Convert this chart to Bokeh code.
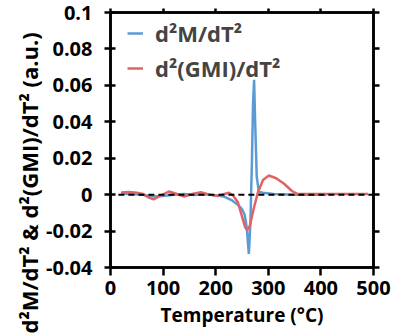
from bokeh.plotting import figure
from bokeh.models import Range1d, LinearAxis, FixedTicker, Legend, LegendItem, CustomJSTickFormatter, Title
from bokeh.embed import file_html
from bokeh.resources import INLINE

# data
temp_m = [20, 40, 60, 80, 100, 120, 140, 160, 180, 200, 215, 230, 242, 250, 255, 259, 263, 266, 269, 271, 273, 275, 278, 282, 290, 310, 350, 410]
d2m = [0.0005, 0.0004, 0.0, -0.001, -0.0008, 0.0, 0.0004, -0.0002, 0.0002, -0.0004, -0.001, -0.003, -0.0055, -0.008, -0.011, -0.018, -0.0325, -0.015, 0.02, 0.05, 0.063, 0.04, 0.01, 0.0015, 0.001, 0.0004, 0.0, 0.0]
temp_g = [20, 35, 50, 62, 72, 82, 95, 111, 125, 140, 155, 172, 188, 204, 215, 225, 233, 242, 250, 256, 260, 265, 272, 280, 290, 301, 315, 330, 345, 356, 380, 420, 460, 490]
d2gmi = [0.0012, 0.0015, 0.001, 0.0003, -0.0015, -0.0026, -0.0005, 0.0017, 0.0005, -0.001, 0.0003, 0.0013, 0.0, -0.0008, 0.0002, 0.001, -0.0005, -0.004, -0.012, -0.018, -0.0194, -0.017, -0.008, 0.001, 0.008, 0.0105, 0.009, 0.006, 0.002, 0.0003, 0.0003, 0.0003, 0.0003, 0.0003]
base_t = [15, 500]
base_v = [0, 0]
x_ticks = [0, 100, 200, 300, 400, 500]
y_ticks = [-0.04, -0.02, 0, 0.02, 0.04, 0.06, 0.08, 0.1]
y_labels = ["-0.04", "-0.02", "0", "0.02", "0.04", "0.06", "0.08", "0.1"]
y_title = "d²M/dT² & d²(GMI)/dT² (a.u.)"
x_title = "Temperature (°C)"

FONT = "Open Sans"
BLUE = "#5B9BD5"
RED = "#E06464"

p = figure(width=394, height=334, output_backend="svg", toolbar_location=None,
           x_range=Range1d(0, 500), y_range=Range1d(-0.04, 0.1),
           min_border_left=110, min_border_right=21, min_border_top=12, min_border_bottom=67)
p.xgrid.visible = False
p.ygrid.visible = False
p.outline_line_color = "black"
p.outline_line_width = 2.5
p.background_fill_color = None
p.border_fill_color = None

r_m = p.line(temp_m, d2m, line_color=BLUE, line_width=2.5)
r_g = p.line(temp_g, d2gmi, line_color=RED, line_width=2.5)
p.line(base_t, base_v, line_color="black", line_width=2, line_dash="6 4")

for ax in (p.xaxis[0], p.yaxis[0]):
    ax.axis_line_width = 2.5
    ax.major_tick_line_width = 2.5
    ax.minor_tick_line_color = None
    ax.major_label_text_font = FONT
    ax.major_label_text_font_style = "bold"
    ax.major_label_text_font_size = "20px"
    ax.major_label_text_color = "black"
    ax.axis_label_text_font = FONT
    ax.axis_label_text_font_style = "bold"
    ax.axis_label_text_font_size = "19px"
    ax.axis_label_text_color = "black"

p.xaxis.ticker = FixedTicker(ticks=x_ticks)
p.xaxis.major_tick_in = 0
p.xaxis.major_tick_out = 8
p.xaxis.major_label_standoff = 5
p.xaxis.axis_label = x_title
p.xaxis.axis_label_standoff = 4

p.yaxis.ticker = FixedTicker(ticks=y_ticks)
p.yaxis.major_label_overrides = {t: l for t, l in zip(y_ticks, y_labels)}
p.yaxis.major_tick_in = 5
p.yaxis.major_tick_out = 6
p.yaxis.major_label_standoff = 12

blank = CustomJSTickFormatter(code="return ''")
top = LinearAxis(ticker=FixedTicker(ticks=x_ticks), formatter=blank, axis_line_width=2.5,
                 major_tick_line_width=2.5, major_tick_in=0, major_tick_out=4,
                 minor_tick_line_color=None, major_label_standoff=0, major_label_text_font_size="0px")
right = LinearAxis(ticker=FixedTicker(ticks=y_ticks), formatter=blank, axis_line_width=2.5,
                   major_tick_line_width=2.5, major_tick_in=0, major_tick_out=6,
                   minor_tick_line_color=None, major_label_standoff=0, major_label_text_font_size="0px")
p.add_layout(top, "above")
p.add_layout(right, "right")

ytitle = Title(text=y_title, align="left", offset=-66, vertical_align="bottom", standoff=0,
               text_font=FONT, text_font_style="bold", text_font_size="22px", text_color="black")
p.add_layout(ytitle, "left")

legend = Legend(items=[LegendItem(label="d²M/dT²", renderers=[r_m]),
                       LegendItem(label="d²(GMI)/dT²", renderers=[r_g])],
                location=(17, 184), padding=0, margin=0, spacing=5,
                label_height=28, glyph_width=16, glyph_height=28, label_standoff=12,
                label_text_font=FONT, label_text_font_style="bold", label_text_font_size="22px",
                border_line_color=None, background_fill_alpha=0)
p.add_layout(legend)

open("out.html", "w").write(file_html(p, INLINE))
